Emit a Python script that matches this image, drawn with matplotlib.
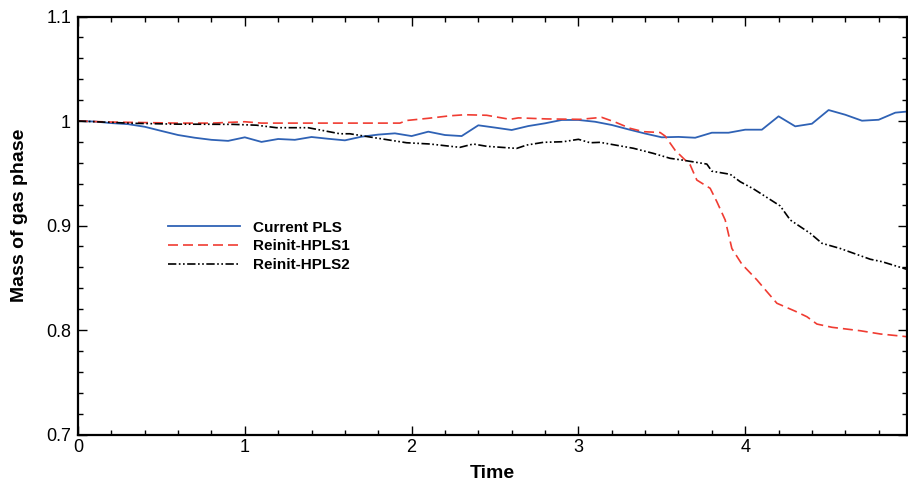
import matplotlib
matplotlib.use("Agg")
import matplotlib.pyplot as plt
from matplotlib.ticker import MultipleLocator, FormatStrFormatter

plt.rcParams['font.family'] = ['Liberation Sans', 'DejaVu Sans']

# Current PLS (sampled every 0.1)
pls_t = [0.0, 0.1, 0.2, 0.3, 0.4, 0.5, 0.6, 0.7, 0.8, 0.9,
         1.0, 1.1, 1.2, 1.3, 1.4, 1.5, 1.6, 1.7, 1.8, 1.9,
         2.0, 2.1, 2.2, 2.3, 2.4, 2.5, 2.6, 2.7, 2.8, 2.9,
         3.0, 3.1, 3.2, 3.3, 3.4, 3.5, 3.6, 3.7, 3.8, 3.9,
         4.0, 4.1, 4.2, 4.3, 4.4, 4.5, 4.6, 4.7, 4.8, 4.9, 5.0]
pls_m = [1.000, 0.9995, 0.998, 0.997, 0.9945, 0.9905, 0.9866, 0.984, 0.982, 0.981,
         0.9844, 0.980, 0.9828, 0.982, 0.9847, 0.983, 0.9815, 0.985, 0.987, 0.9882,
         0.9856, 0.9898, 0.9866, 0.9856, 0.9959, 0.9937, 0.9914, 0.9952, 0.9978, 1.001,
         1.001, 0.9993, 0.9962, 0.992, 0.988, 0.9844, 0.9848, 0.984, 0.9888, 0.9888,
         0.9917, 0.9917, 1.0045, 0.9949, 0.9974, 1.0105, 1.006, 1.0003, 1.0012, 1.008, 1.0095]

# Reinit-HPLS1
h1_t = [0.0, 0.2, 0.4, 0.6, 0.8, 1.0, 1.1, 1.3, 1.5, 1.7, 1.93, 1.97, 2.1, 2.23, 2.32,
        2.45, 2.59, 2.64, 2.81, 3.01, 3.14, 3.22, 3.31, 3.39, 3.49, 3.52, 3.58, 3.67,
        3.71, 3.79, 3.83, 3.88, 3.92, 3.98, 4.07, 4.13, 4.19, 4.3, 4.37, 4.43, 4.52,
        4.69, 4.81, 4.97]
h1_m = [1.000, 0.999, 0.9985, 0.998, 0.998, 0.9993, 0.998, 0.998, 0.998, 0.998, 0.998,
        1.0005, 1.0026, 1.005, 1.006, 1.0055, 1.0016, 1.003, 1.002, 1.0016, 1.0035,
        0.999, 0.993, 0.9898, 0.989, 0.9856, 0.972, 0.958, 0.9435, 0.9356, 0.9228,
        0.9053, 0.878, 0.863, 0.848, 0.8367, 0.8256, 0.818, 0.8127, 0.8057, 0.8026,
        0.7993, 0.7962, 0.7936]

# Reinit-HPLS2
h2_t = [0.0, 0.33, 0.6, 0.93, 1.07, 1.19, 1.38, 1.57, 1.63, 1.75, 1.97, 2.11, 2.29,
        2.37, 2.45, 2.63, 2.69, 2.79, 2.91, 3.0, 3.07, 3.13, 3.33, 3.45, 3.55, 3.62,
        3.77, 3.8, 3.91, 3.97, 4.05, 4.21, 4.27, 4.39, 4.46, 4.57, 4.75, 4.82, 4.97]
h2_m = [1.000, 0.9978, 0.997, 0.9968, 0.996, 0.9936, 0.9936, 0.9878, 0.9878, 0.9847,
        0.9792, 0.978, 0.9748, 0.978, 0.9758, 0.9738, 0.977, 0.9796, 0.9802, 0.9825,
        0.9792, 0.9796, 0.9739, 0.969, 0.9643, 0.9627, 0.9588, 0.952, 0.949, 0.9419,
        0.935, 0.9187, 0.9053, 0.8925, 0.883, 0.878, 0.8677, 0.8654, 0.858]

fig = plt.figure(figsize=(9.08, 4.83), dpi=100)
ax = fig.add_axes([0.0859, 0.1004, 0.913, 0.8654])

ax.plot(pls_t, pls_m, color='#2f62b5', lw=1.3, label='Current PLS')
ax.plot(h1_t, h1_m, color='#f03c32', lw=1.2, dashes=(6, 3), label='Reinit-HPLS1')
ax.plot(h2_t, h2_m, color='black', lw=1.2, dashes=(5, 1.5, 1, 1.5, 1, 1.5),
        label='Reinit-HPLS2')

ax.set_xlim(0, 4.97)
ax.set_ylim(0.7, 1.1)
ax.xaxis.set_major_locator(MultipleLocator(1))
ax.xaxis.set_minor_locator(MultipleLocator(0.2))
ax.yaxis.set_major_locator(MultipleLocator(0.1))
ax.yaxis.set_minor_locator(MultipleLocator(0.02))
ax.yaxis.set_major_formatter(FormatStrFormatter('%g'))
ax.tick_params(which='both', direction='in', top=True, right=True, labelsize=13)
ax.tick_params(which='major', length=6.5, width=1.0)
ax.tick_params(which='minor', length=3.5, width=1.0)
ax.tick_params(axis='x', pad=3)
ax.tick_params(axis='y', pad=5)
for s in ax.spines.values():
    s.set_linewidth(1.6)

ax.set_xlabel('Time', fontsize=14, fontweight='bold')
ax.set_ylabel('Mass of gas phase', fontsize=14, fontweight='bold')
ax.xaxis.set_label_coords(0.5, -0.072)
ax.yaxis.set_label_coords(-0.060, 0.525)

ax.legend(loc='center left', bbox_to_anchor=(0.092, 0.45), frameon=False,
          prop={'size': 11, 'weight': 'bold'}, handlelength=4.7,
          handletextpad=0.85, labelspacing=0.3)

fig.savefig('out.png', dpi=100)
